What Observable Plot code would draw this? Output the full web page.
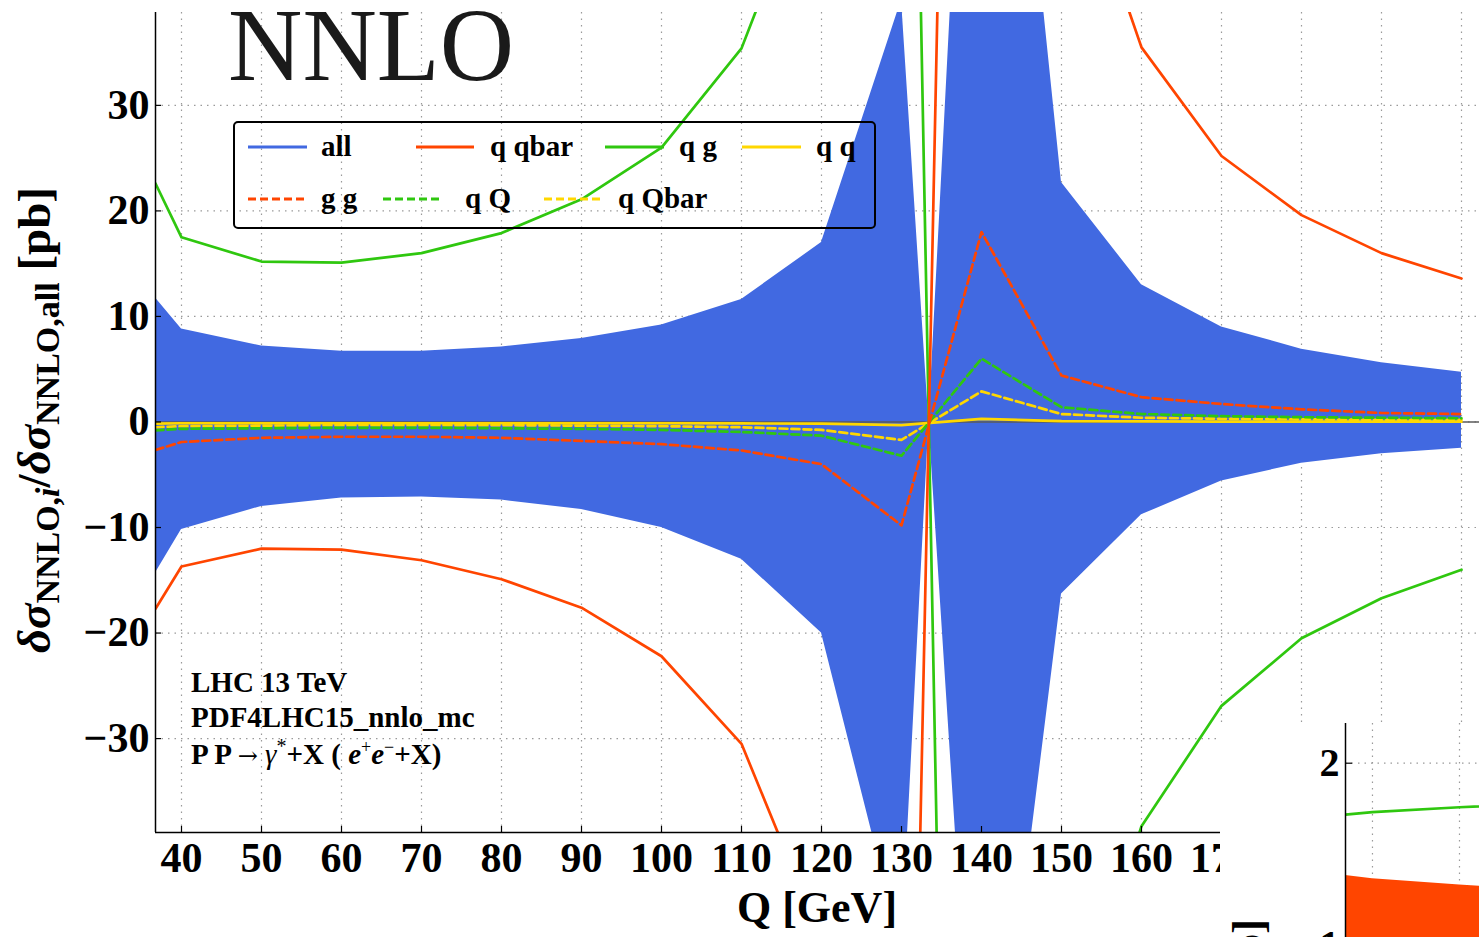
<!DOCTYPE html>
<html>
<head>
<meta charset="utf-8">
<script src="https://cdn.jsdelivr.net/npm/d3@7"></script>
<script src="https://cdn.jsdelivr.net/npm/@observablehq/plot@0.6"></script>
<style>
  html, body { margin: 0; padding: 0; background: white; }
  body { width: 1479px; height: 937px; overflow: hidden; position: relative; }
  #main { position: absolute; left: 0; top: 0; }
  #inset { position: absolute; left: 1220px; top: 723px; width: 259px; height: 214px; overflow: hidden; background: white; }
</style>
</head>
<body>
<div id="main"></div>
<div id="inset"></div>
<script>
// ---------------- data ----------------
const Q       = [36.75, 40, 50, 60, 70, 80, 90, 100, 110, 120, 130, 140, 150, 160, 170, 180, 190, 200];
// "all" band: two boundary curves (they swap sides across the pole near Q≈133.4)
const allA    = [11.75, 8.8, 7.2, 6.7, 6.7, 7.1, 7.9, 9.2, 11.6, 17.0, 40, -77, -16.3, -8.8, -5.6, -3.9, -3.0, -2.5];
const allB    = [-14.3, -10.2, -8.0, -7.2, -7.1, -7.4, -8.3, -10.0, -13.0, -20.0, -50, 96, 22.7, 13.0, 9.0, 6.9, 5.6, 4.7];
const qqbar   = [-17.7, -13.7, -12.0, -12.1, -13.1, -14.9, -17.6, -22.2, -30.5, -49, -124.5, 240, 57.5, 35.5, 25.2, 19.6, 16.0, 13.6];
const qg      = [22.6, 17.5, 15.2, 15.1, 16.0, 17.9, 21.1, 26.0, 35.4, 55, 135, -261, -62, -38.3, -26.9, -20.5, -16.7, -14.0];
const qq      = [-0.15, -0.12, -0.12, -0.12, -0.12, -0.12, -0.12, -0.12, -0.14, -0.16, -0.3, 0.3, 0.08, 0.05, 0.04, 0.03, 0.03, 0.03];
const gg      = [-2.65, -1.9, -1.5, -1.4, -1.4, -1.5, -1.8, -2.1, -2.7, -4.0, -9.8, 18.0, 4.4, 2.35, 1.7, 1.2, 0.85, 0.75];
const qQ      = [-0.8, -0.65, -0.6, -0.55, -0.55, -0.6, -0.65, -0.75, -0.95, -1.3, -3.2, 6.0, 1.4, 0.75, 0.55, 0.45, 0.4, 0.35];
const qQbar   = [-0.5, -0.4, -0.35, -0.3, -0.3, -0.3, -0.35, -0.4, -0.5, -0.75, -1.7, 2.9, 0.75, 0.4, 0.3, 0.25, 0.2, 0.2];

const xTicks = [40, 50, 60, 70, 80, 90, 100, 110, 120, 130, 140, 150, 160, 170, 180, 190, 200];
const yTicks = [-30, -20, -10, 0, 10, 20, 30];
const xDomain = [36.75, 202.25];
const yDomain = [-38.9, 38.8];

// inset (bottom-right, partly visible)
const insetQ     = [36.9, 40, 50, 60];
const insetGreen = [1.717, 1.731, 1.758, 1.78];
const insetRed   = [1.383, 1.365, 1.331, 1.30];
const insetXTicks = [40, 50];
const insetYTicks = [1, 2];

const legendRow1 = ["all", "q qbar", "q g", "q q"];
const legendRow2 = ["g g", "q Q", "q Qbar"];
const infoLines = ["LHC 13 TeV", "PDF4LHC15_nnlo_mc"];

// ---------------- styling ----------------
const F = "'Liberation Serif', 'Times New Roman', serif";
const BLUE = "#4169E1", RED = "#FF4500", GREEN = "#2FC70F", YELLOW = "#FFD700";
const DASH = "8,4";
const GRID = {stroke: "#9a9a9a", strokeOpacity: 1, strokeWidth: 1.2, strokeDasharray: "1.5,5"};

const rows = Q.map((q, i) => ({Q: q, A: allA[i], B: allB[i], qqbar: qqbar[i], qg: qg[i], qq: qq[i], gg: gg[i], qQ: qQ[i], qQbar: qQbar[i]}));
const series = [
  {key: "qq",    color: YELLOW, dash: null},
  {key: "qQbar", color: YELLOW, dash: DASH},
  {key: "qQ",    color: GREEN,  dash: DASH},
  {key: "gg",    color: RED,    dash: DASH},
  {key: "qg",    color: GREEN,  dash: null},
  {key: "qqbar", color: RED,    dash: null}
];

const W = 1479, H = 937, ML = 155, MR = 0, MT = 12, MB = 105;
const plotW = W - ML - MR, plotH = H - MT - MB;

const main = Plot.plot({
  width: W, height: H,
  marginLeft: ML, marginRight: MR, marginTop: MT, marginBottom: MB,
  x: {domain: xDomain},
  y: {domain: yDomain},
  style: {fontFamily: F, background: "transparent", color: "black"},
  marks: [
    Plot.gridX(xTicks, GRID),
    Plot.gridY(yTicks, GRID),
    Plot.areaY(rows, {x: "Q", y1: "A", y2: "B", fill: BLUE, clip: true}),
    Plot.ruleY([0], {stroke: "#5a5a5a", strokeWidth: 1.6}),
    ...series.map(s => Plot.line(rows, {x: "Q", y: s.key, stroke: s.color, strokeWidth: 2.7,
        strokeDasharray: s.dash, clip: true})),
    Plot.ruleX([xDomain[0]], {stroke: "black", strokeWidth: 1.5}),
    Plot.ruleY([yDomain[0]], {stroke: "black", strokeWidth: 1.5}),
    Plot.tickY(yTicks, {y: d => d, insetRight: plotW - 6, stroke: "black", strokeWidth: 1.2}),
    Plot.tickX(xTicks, {x: d => d, insetTop: plotH - 6, stroke: "black", strokeWidth: 1.2}),
    Plot.axisX(xTicks, {tickSize: 0, tickPadding: 10, fontSize: 42, fontWeight: "bold", label: null,
        tickFormat: d => String(d)}),
    Plot.axisY(yTicks, {tickSize: 0, tickPadding: 6, fontSize: 42, fontWeight: "bold", label: null,
        tickFormat: d => d < 0 ? "\u2212" + Math.abs(d) : String(d)})
  ]
});
document.getElementById("main").appendChild(main);

const svg = d3.select(main);

// Title
svg.append("text").attr("x", 228).attr("y", 80).attr("text-anchor", "start").attr("font-family", F)
  .attr("font-size", 103).attr("fill", "#1a1a1a").text("NNLO");

// x label
svg.append("text").attr("x", (ML + W - MR) / 2).attr("y", 922).attr("text-anchor", "middle")
  .attr("font-family", F).attr("font-size", 44).attr("font-weight", "bold").text("Q [GeV]");

// y label (rotated, with subscripts)
const yl = svg.append("text").attr("transform", "translate(50,420) rotate(-90)")
  .attr("text-anchor", "middle").attr("font-family", F).attr("font-size", 47).attr("font-weight", "bold");
yl.append("tspan").attr("font-style", "italic").text("δσ");
yl.append("tspan").attr("font-size", 34).attr("dy", 9).text("NNLO,");
yl.append("tspan").attr("font-size", 34).attr("font-style", "italic").text("i");
yl.append("tspan").attr("dy", -9).text("/");
yl.append("tspan").attr("font-style", "italic").text("δσ");
yl.append("tspan").attr("font-size", 34).attr("dy", 9).text("NNLO,all");
yl.append("tspan").attr("dy", -9).text(" [pb]");

// Legend
const lg = svg.append("g").attr("font-family", F).attr("font-size", 29).attr("font-weight", "bold")
  .attr("text-anchor", "start");
lg.append("rect").attr("x", 234).attr("y", 122).attr("width", 641).attr("height", 106).attr("rx", 4)
  .attr("fill", "none").attr("stroke", "black").attr("stroke-width", 2);
const leg1 = [
  {x1: 248, x2: 307, tx: 321, color: BLUE},
  {x1: 416, x2: 474, tx: 490, color: RED},
  {x1: 605, x2: 664, tx: 679, color: GREEN},
  {x1: 742, x2: 801, tx: 816, color: YELLOW}
];
const leg2 = [
  {x1: 248, x2: 304, tx: 321, color: RED},
  {x1: 383, x2: 439, tx: 465, color: GREEN},
  {x1: 544, x2: 600, tx: 618, color: YELLOW}
];
leg1.forEach((d, i) => {
  lg.append("line").attr("x1", d.x1).attr("x2", d.x2).attr("y1", 147).attr("y2", 147)
    .attr("stroke", d.color).attr("stroke-width", 3);
  lg.append("text").attr("x", d.tx).attr("y", 156).text(legendRow1[i]);
});
leg2.forEach((d, i) => {
  lg.append("line").attr("x1", d.x1).attr("x2", d.x2).attr("y1", 199).attr("y2", 199)
    .attr("stroke", d.color).attr("stroke-width", 3).attr("stroke-dasharray", DASH);
  lg.append("text").attr("x", d.tx).attr("y", 208).text(legendRow2[i]);
});

// Info text
const info = svg.append("g").attr("font-family", F).attr("font-size", 29).attr("font-weight", "bold")
  .attr("text-anchor", "start");
info.append("text").attr("x", 191).attr("y", 692).text(infoLines[0]);
info.append("text").attr("x", 191).attr("y", 727).text(infoLines[1]);
const t3 = info.append("text").attr("x", 191).attr("y", 764);
t3.append("tspan").text("P P ");
t3.append("tspan").attr("font-family", "'DejaVu Serif', serif").attr("font-weight", "normal")
  .attr("font-size", 24).text("\u2192");
t3.append("tspan").text(" ");
t3.append("tspan").attr("font-style", "italic").attr("font-weight", "normal").text("γ");
t3.append("tspan").attr("font-size", 20).attr("dy", -11).attr("font-weight", "normal").text("*");
t3.append("tspan").attr("dy", 11).text("+X ( ");
t3.append("tspan").attr("font-style", "italic").text("e");
t3.append("tspan").attr("font-size", 18).attr("dy", -11).attr("font-weight", "normal").text("+");
t3.append("tspan").attr("dy", 11).attr("font-style", "italic").text("e");
t3.append("tspan").attr("font-size", 18).attr("dy", -11).attr("font-weight", "normal").text("\u2212");
t3.append("tspan").attr("dy", 11).text("+X)");

// ---------------- inset ----------------
const irows = insetQ.map((q, i) => ({Q: q, g: insetGreen[i], r: insetRed[i]}));
const IW = 259, IH = 214, IML = 125;
const inset = Plot.plot({
  width: IW, height: IH,
  marginLeft: IML, marginRight: 0, marginTop: 0, marginBottom: 0,
  x: {domain: [36.9, 52.3]},
  y: {domain: [1, 2], range: [221.7, 39.7]},
  style: {fontFamily: F, background: "white", color: "black", overflow: "hidden"},
  marks: [
    Plot.gridX(insetXTicks, GRID),
    Plot.gridY([2], GRID),
    Plot.areaY(irows, {x: "Q", y: "r", fill: RED, clip: true}),
    Plot.line(irows, {x: "Q", y: "g", stroke: GREEN, strokeWidth: 2.7, clip: true}),
    Plot.ruleX([36.9], {stroke: "black", strokeWidth: 1.5}),
    Plot.tickY(insetYTicks, {y: d => d, insetRight: (IW - IML) - 7, stroke: "black", strokeWidth: 1.2}),
    Plot.axisY(insetYTicks, {tickSize: 0, tickPadding: 6, fontSize: 40, fontWeight: "bold", label: null,
        tickFormat: d => String(d)})
  ]
});
document.getElementById("inset").appendChild(inset);
d3.select(inset).append("text").attr("transform", "translate(43,196) rotate(-90)")
  .attr("text-anchor", "end").attr("font-family", F).attr("font-size", 44).attr("font-weight", "bold")
  .text("[pb]");
</script>
</body>
</html>
